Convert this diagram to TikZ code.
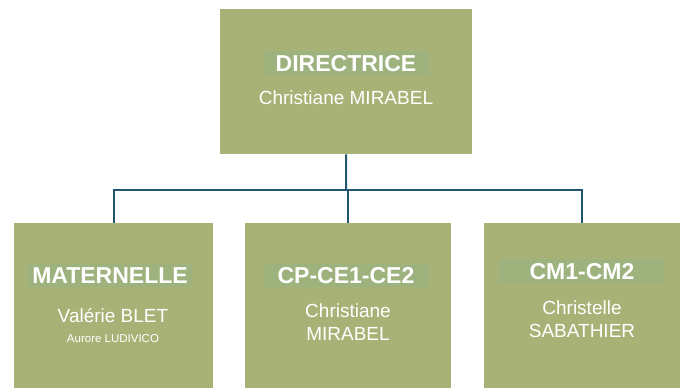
\documentclass[tikz,border=0pt]{standalone}
\usepackage{fontspec}
\setmainfont{Liberation Sans}
\usetikzlibrary{positioning}

\definecolor{boxgreen}{HTML}{A8B277}
\definecolor{titlegreen}{HTML}{9EB27E}
\definecolor{linkblue}{HTML}{22566F}

\tikzset{
  unit/.style={fill=boxgreen, anchor=north west, inner sep=0pt},
  title/.style={fill=titlegreen, text=white, font=\bfseries\fontsize{23}{26}\selectfont,
    minimum width=166pt, text height=17pt, text depth=0pt, inner ysep=3.5pt},
  person/.style={text=white, font=\fontsize{19}{23}\selectfont, align=center, inner sep=0pt},
  small/.style={text=white, font=\fontsize{11.5}{13}\selectfont, inner sep=0pt},
  link/.style={draw=linkblue, line width=2pt}
}

\begin{document}
\begin{tikzpicture}[x=1pt, y=-1pt]
  \useasboundingbox (0,0) rectangle (686,388);

  % cases
  \node[unit, minimum width=252pt, minimum height=145pt] (dir) at (220,9) {};
  \node[unit, minimum width=199pt, minimum height=170pt] (mat) at (14,223) {};
  \node[unit, minimum width=206pt, minimum height=170pt] (cp) at (245,223) {};
  \node[unit, minimum width=196pt, minimum height=170pt] (cm) at (484,223) {};

  % liaisons
  \coordinate (bus) at (346,190);
  \draw[link] (dir.south) -- (bus);
  \draw[link] (bus) -| (mat.north);
  \draw[link] (bus) -| (cp.north);
  \draw[link] (bus) -| (cm.north);

  % direction
  \node[title] (dirtitle) at (346,63) {DIRECTRICE};
  \node[person, anchor=base] (dirname) at (346,104) {Christiane MIRABEL};

  % maternelle
  \node[title] (mattitle) at (110,275) {MATERNELLE};
  \node[person, anchor=base] (matname) at (113,322) {Valérie BLET};
  \node[small, anchor=base] (matname2) at (113,342) {Aurore LUDIVICO};

  % cp-ce1-ce2 (base = derniere ligne)
  \node[title] (cptitle) at (346,275) {CP-CE1-CE2};
  \node[person, anchor=base] (cpname) at (348,340) {Christiane\\MIRABEL};

  % cm1-cm2
  \node[title] (cmtitle) at (582,271) {CM1-CM2};
  \node[person, anchor=base] (cmname) at (582,337) {Christelle\\SABATHIER};
\end{tikzpicture}
\end{document}
